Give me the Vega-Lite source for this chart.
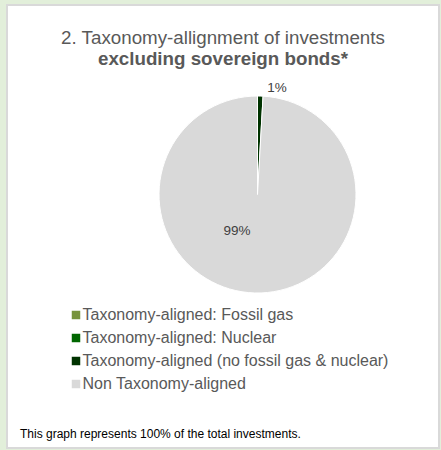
{
  "$schema": "https://vega.github.io/schema/vega-lite/v6.json",
  "width": 432,
  "height": 443,
  "autosize": {"type": "none"},
  "padding": {"left": 7, "top": 5, "right": 2, "bottom": 2},
  "background": "#e2efda",
  "view": {"fill": "#ffffff", "stroke": "#d9d9d9", "strokeWidth": 2},
  "config": {"font": "Liberation Sans"},
  "title": {
    "text": "2. Taxonomy-allignment of investments",
    "subtitle": "excluding sovereign bonds*",
    "anchor": "middle",
    "offset": -64,
    "font": "Liberation Sans",
    "fontSize": 18.75,
    "fontWeight": "normal",
    "color": "#595959",
    "subtitleFont": "Liberation Sans",
    "subtitleFontSize": 18.75,
    "subtitleFontWeight": "bold",
    "subtitleColor": "#595959",
    "subtitlePadding": 2.5
  },
  "data": {
    "values": [
      {"category": "Taxonomy-aligned: Fossil gas", "value": 0, "ord": 1, "label": "0%"},
      {"category": "Taxonomy-aligned: Nuclear", "value": 0, "ord": 2, "label": "0%"},
      {"category": "Taxonomy-aligned (no fossil gas & nuclear)", "value": 0.9, "ord": 3, "label": "1%"},
      {"category": "Non Taxonomy-aligned", "value": 99.1, "ord": 4, "label": "99%"}
    ]
  },
  "transform": [{"filter": "datum.value > 0"}],
  "encoding": {
    "theta": {"field": "value", "type": "quantitative", "stack": true},
    "order": {"field": "ord", "type": "quantitative"}
  },
  "layer": [
    {
      "mark": {"type": "arc", "outerRadius": 98.5, "x": 250.5, "y": 189.5, "stroke": "#ffffff", "strokeWidth": 1},
      "encoding": {
        "color": {
          "field": "category",
          "type": "nominal",
          "scale": {
            "domain": ["Taxonomy-aligned: Fossil gas", "Taxonomy-aligned: Nuclear", "Taxonomy-aligned (no fossil gas & nuclear)", "Non Taxonomy-aligned"],
            "range": ["#77933c", "#006600", "#003300", "#d9d9d9"]
          },
          "legend": {
            "orient": "none",
            "legendX": 13,
            "legendY": 302,
            "direction": "vertical",
            "padding": 0,
            "title": "This graph represents 100% of the total investments.",
            "titleOrient": "bottom",
            "titleAnchor": "start",
            "titlePadding": 37,
            "titleFont": "Liberation Sans",
            "titleFontSize": 12,
            "titleFontWeight": "normal",
            "titleColor": "#000000",
            "titleLimit": 600,
            "symbolType": "square",
            "symbolSize": 72,
            "symbolOffset": 48,
            "symbolStrokeWidth": 0,
            "labelOffset": -1.5,
            "labelFont": "Liberation Sans",
            "labelFontSize": 16,
            "labelColor": "#595959",
            "labelLimit": 600,
            "rowPadding": 7
          }
        }
      }
    },
    {
      "mark": {"type": "text", "x": 250.5, "y": 189.5, "radius": 106.2, "dx": 16.5, "fontSize": 13.5, "align": "center", "baseline": "middle"},
      "encoding": {
        "text": {"condition": {"test": "datum.ord == 3", "field": "label"}, "value": ""},
        "color": {"value": "#404040"}
      }
    },
    {
      "mark": {"type": "text", "x": 250.5, "y": 189.5, "radius": 36.5, "dx": -19.5, "fontSize": 13.5, "align": "center", "baseline": "middle"},
      "encoding": {
        "text": {"condition": {"test": "datum.ord == 4", "field": "label"}, "value": ""},
        "color": {"value": "#404040"}
      }
    }
  ]
}
